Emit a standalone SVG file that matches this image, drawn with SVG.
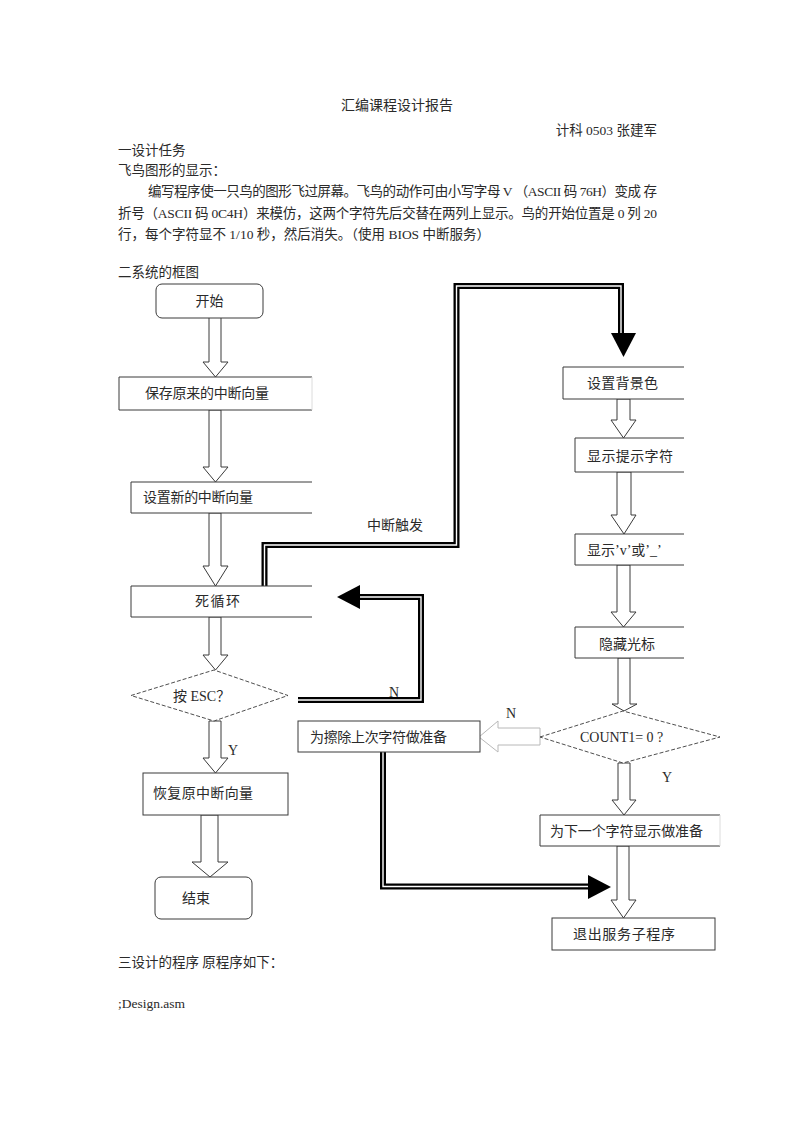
<svg xmlns="http://www.w3.org/2000/svg" width="793" height="1122" viewBox="0 0 793 1122">
<style>
text{font-family:"Liberation Serif","Noto Sans CJK SC",serif;fill:#2a2a2a}
.body{font-size:13.5px}
.lbl{font-size:14px}
.box{fill:#fff;stroke:#3a3a3a;stroke-width:1}
.faint{stroke:#dcdcdc;stroke-width:1;fill:none}
.dia{fill:#fff;stroke:#3a3a3a;stroke-width:0.9;stroke-dasharray:4 2}
.hol{fill:#fff;stroke:#3a3a3a;stroke-width:1;stroke-linejoin:miter}
.holl{fill:#fff;stroke:#b8b8b8;stroke-width:1}
.thk{fill:none;stroke:#000;stroke-width:6;stroke-linejoin:miter}
.thw{fill:none;stroke:#fff;stroke-width:1.4;stroke-linejoin:miter}
.head{fill:#000}
</style>
<rect width="793" height="1122" fill="#fff"/>

<g id="header">
<text class="body" x="397" y="110" text-anchor="middle" style="font-size:14px">汇编课程设计报告</text>
<text class="body" x="657" y="135" text-anchor="end">计科 0503 张建军</text>
<text class="body" x="118" y="155">一设计任务</text>
<text class="body" x="118" y="175">飞鸟图形的显示：</text>
<text class="body" x="148" y="196" textLength="509" lengthAdjust="spacing">编写程序使一只鸟的图形飞过屏幕。飞鸟的动作可由小写字母 V （ASCII 码 76H）变成  存</text>
<text class="body" x="118" y="218" textLength="539" lengthAdjust="spacing">折号（ASCII 码 0C4H）来模仿，这两个字符先后交替在两列上显示。鸟的开始位置是 0 列 20</text>
<text class="body" x="118" y="239">行，每个字符显不 1/10 秒，然后消失。（使用 BIOS 中断服务）</text>
<text class="body" x="118" y="277">二系统的框图</text>
<text class="body" x="118" y="967">三设计的程序  原程序如下：</text>
<text class="body" x="118" y="1008">;Design.asm</text>
</g>

<g id="connectors">
<!-- hollow arrows left column -->
<polygon class="hol" points="209,317 221,317 221,362 228,362 215.5,377 203,362 209,362"/>
<polygon class="hol" points="209,410 221,410 221,467 228,467 215.5,482 203,467 209,467"/>
<polygon class="hol" points="209,513 221,513 221,566 228,566 215.5,586 203,566 209,566"/>
<polygon class="hol" points="209,617 221,617 221,655 228,655 215.5,670 203,655 209,655"/>
<polygon class="hol" points="209,721 221,721 221,758 228,758 215.5,773 203,758 209,758"/>
<polygon class="hol" points="201,815 218,815 218,862 228,862 210,877 192,862 201,862"/>
<!-- hollow arrows right column -->
<polygon class="hol" points="617,399 630,399 630,420 636,420 623.5,438 611,420 617,420"/>
<polygon class="hol" points="617,472 631,472 631,515 636,515 624,534 611,515 617,515"/>
<polygon class="hol" points="617,565 630,565 630,612 636,612 623.5,627 611,612 617,612"/>
<polygon class="hol" points="618,658 630,658 630,704 637,704 624,711 612,704 618,704"/>
<polygon class="hol" points="618,763 630,763 630,800 636,800 624,815 612,800 618,800"/>
<polygon class="hol" points="617,846 629,846 629,900 636,900 623.5,918 611,900 617,900"/>
<polygon class="holl" points="540,728 498,728 498,721 479,737 498,752 498,745 540,745"/>
<!-- thick connectors -->
<path class="thk" d="M264.5,586 V545 H456.5 V286 H621 V334"/>
<path class="thw" d="M264.5,586 V545 H456.5 V286 H621 V334"/>
<polygon class="head" points="611,333 636,333 623.5,357"/>
<path class="thk" d="M298,700 H421 V597 H358"/>
<path class="thw" d="M298,700 H421 V597 H358"/>
<polygon class="head" points="360,585 360,609 337,597"/>
<path class="thk" d="M383,752 V886.5 H590"/>
<path class="thw" d="M383,752 V886.5 H590"/>
<polygon class="head" points="588,875 588,899 611,887"/>
<text class="lbl" x="367" y="530">中断触发</text>
<text class="lbl" x="389" y="697">N</text>
<text class="lbl" x="228" y="755">Y</text>
<text class="lbl" x="506" y="718">N</text>
<text class="lbl" x="662" y="782">Y</text>
</g>

<g id="n-start">
<rect class="box" x="156" y="284" width="107" height="34" rx="6"/>
<text class="lbl" x="209.5" y="306" text-anchor="middle">开始</text>
</g>
<g id="n-save">
<path class="box" d="M312,377 H119 V410 H312"/>
<path class="faint" d="M312,377 V410"/>
<text class="lbl" x="145" y="398" textLength="124" lengthAdjust="spacing">保存原来的中断向量</text>
</g>
<g id="n-setnew">
<path class="box" d="M312,482 H131 V513 H312"/>
<text class="lbl" x="143" y="502" textLength="110" lengthAdjust="spacing">设置新的中断向量</text>
</g>
<g id="n-loop">
<path class="box" d="M312,586 H131 V617 H312"/>
<text class="lbl" x="195" y="606" textLength="45" lengthAdjust="spacing">死循环</text>
</g>
<g id="n-esc">
<polygon class="dia" points="131,695.5 214,670 288,695.5 214,721"/>
<text class="lbl" x="173" y="701">按 ESC？</text>
</g>
<g id="n-restore">
<rect class="box" x="143" y="773" width="145" height="42"/>
<text class="lbl" x="153" y="798" textLength="100" lengthAdjust="spacing">恢复原中断向量</text>
</g>
<g id="n-end">
<rect class="box" x="155" y="877" width="97" height="42" rx="6"/>
<text class="lbl" x="182" y="903" textLength="28" lengthAdjust="spacing">结束</text>
</g>

<g id="n-bg">
<path class="box" d="M684,367 H563 V399 H684"/>
<text class="lbl" x="587" y="388" textLength="71" lengthAdjust="spacing">设置背景色</text>
</g>
<g id="n-prompt">
<path class="box" d="M684,438 H575 V472 H684"/>
<text class="lbl" x="587" y="461" textLength="86" lengthAdjust="spacing">显示提示字符</text>
</g>
<g id="n-show">
<path class="box" d="M684,534 H575 V565 H684"/>
<text class="lbl" x="587" y="555">显示’v’或’_’</text>
</g>
<g id="n-hide">
<path class="box" d="M684,627 H575 V658 H684"/>
<text class="lbl" x="599" y="649" textLength="56" lengthAdjust="spacing">隐藏光标</text>
</g>
<g id="n-count">
<polygon class="dia" points="540,737 623,711 720,737 623,763"/>
<text class="lbl" x="580" y="742">COUNT1= 0 ?</text>
</g>
<g id="n-erase">
<rect class="box" x="298" y="721" width="182" height="31"/>
<text class="lbl" x="310" y="742" textLength="137" lengthAdjust="spacing">为擦除上次字符做准备</text>
</g>
<g id="n-next">
<path class="box" d="M720,815 H540 V846 H720"/>
<path class="faint" d="M720,815 V846"/>
<text class="lbl" x="550" y="836" textLength="153" lengthAdjust="spacing">为下一个字符显示做准备</text>
</g>
<g id="n-exit">
<rect class="box" x="552" y="918" width="163" height="32"/>
<text class="lbl" x="573" y="939" textLength="102" lengthAdjust="spacing">退出服务子程序</text>
</g>
</svg>
